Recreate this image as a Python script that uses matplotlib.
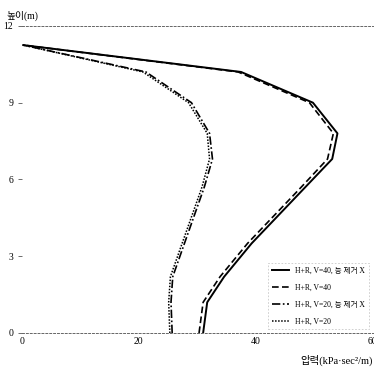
import matplotlib
matplotlib.use("Agg")
import matplotlib.pyplot as plt

plt.rcParams['font.family'] = ['Liberation Serif', 'Noto Sans CJK KR']

heights = [0, 1.2, 2.2, 3.5, 5.7, 6.8, 7.8, 9.0, 10.2, 11.25]
v40_no = [31.0, 31.7, 34.6, 39.3, 48.5, 53.1, 54.0, 49.8, 37.5, 0.2]
v40 = [30.3, 31.0, 33.9, 38.6, 47.8, 52.3, 53.3, 49.2, 37.0, 0.2]
v20_no = [25.7, 25.5, 25.8, 27.8, 31.2, 32.6, 32.1, 29.0, 21.2, 0.2]
v20 = [25.3, 25.1, 25.4, 27.4, 30.8, 32.1, 31.7, 28.5, 20.7, 0.2]

labels = ["H+R, V=40, 능 제거 X", "H+R, V=40", "H+R, V=20, 능 제거 X", "H+R, V=20"]
xticks = [0, 20, 40, 60]
yticks = [0, 3, 6, 9, 12]

fig = plt.figure(figsize=(3.74, 3.70), dpi=100)
ax = fig.add_axes([0.059, 0.10, 0.937, 0.83])

ax.plot(v40_no, heights, color='black', lw=1.4, ls='-', label=labels[0])
ax.plot(v40, heights, color='black', lw=1.2, ls=(0, (4, 2)), label=labels[1])
ax.plot(v20_no, heights, color='black', lw=1.2, ls=(0, (5, 1.5, 1, 1.5)), label=labels[2])
ax.plot(v20, heights, color='black', lw=1.1, ls=(0, (1, 1)), label=labels[3])

ax.set_xlim(0, 60)
ax.set_ylim(0, 12)
ax.set_xticks(xticks)
ax.set_yticks(yticks)
ax.tick_params(axis='both', labelsize=7, length=3, width=0.6, color='#555555')
ax.tick_params(axis='x', length=0, pad=3)

for s in ['left', 'right']:
    ax.spines[s].set_visible(False)
for s in ['top', 'bottom']:
    ax.spines[s].set_linestyle((0, (2, 2)))
    ax.spines[s].set_linewidth(0.7)
    ax.spines[s].set_color('#666666')

ax.text(0.0, 1.015, "높이(m)", transform=ax.transAxes, fontsize=7, ha='center', va='bottom')
ax.text(1.0, -0.07, "압력(kPa·sec²/m)", transform=ax.transAxes, fontsize=7.5, ha='right', va='top')

leg = ax.legend(loc='lower right', fontsize=5.5, frameon=True, fancybox=False,
                handlelength=2.2, labelspacing=1.15, borderpad=0.5,
                bbox_to_anchor=(1.0, 0.0))
leg.get_frame().set_edgecolor('#bbbbbb')
leg.get_frame().set_linewidth(0.6)
leg.get_frame().set_linestyle((0, (2, 2)))

fig.savefig("out.png", dpi=100)
